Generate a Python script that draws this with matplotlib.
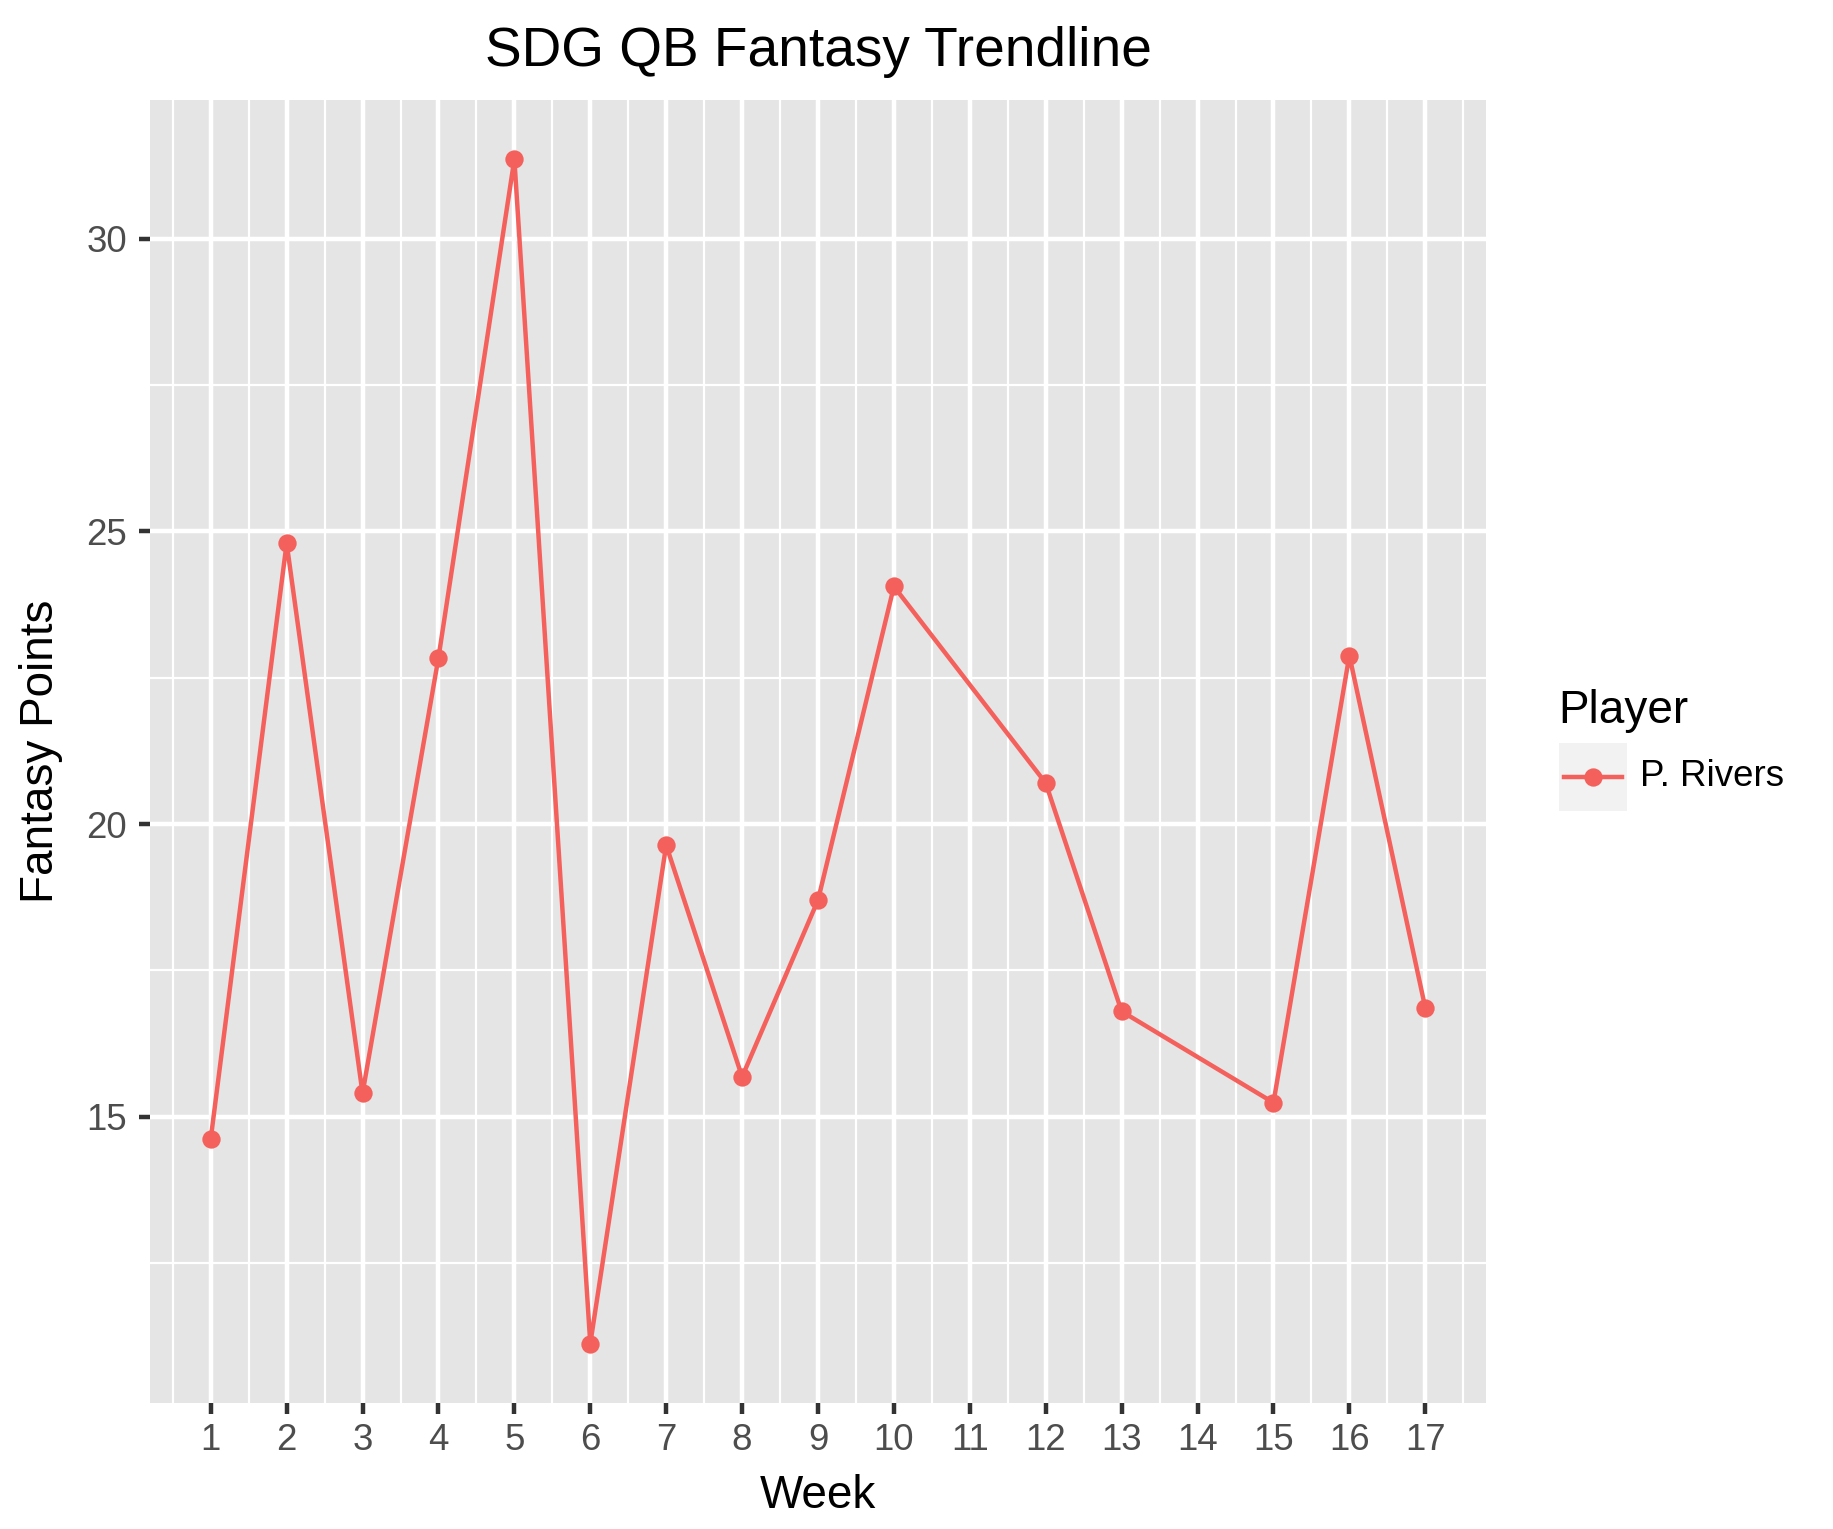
import numpy as np
import matplotlib
matplotlib.use('Agg')
import matplotlib.pyplot as plt
from matplotlib.ticker import FixedLocator

plt.rcParams['font.family'] = ['Liberation Sans', 'DejaVu Sans']

weeks = [1, 2, 3, 4, 5, 6, 7, 8, 9, 10, 12, 13, 15, 16, 17]
points = [14.62, 24.80, 15.40, 22.84, 31.36, 11.12, 19.64, 15.68, 18.70, 24.06,
          20.70, 16.80, 15.24, 22.88, 16.86]
week_ticks = list(range(1, 18))
y_ticks = [15, 20, 25, 30]
player = 'P. Rivers'

red = '#F4615C'
W, H = 1833, 1529

fig = plt.figure(figsize=(W / 300, H / 300), dpi=300)
ax = fig.add_axes([150 / W, 1 - 1403 / H, (1486 - 150) / W, (1403 - 100) / H])
ax.set_facecolor('#E5E5E5')
for s in ax.spines.values():
    s.set_visible(False)

# ggplot-style expansion of the limits
xr = max(week_ticks) - min(week_ticks)
ax.set_xlim(min(week_ticks) - 0.05 * xr, max(week_ticks) + 0.05 * xr)
yr = max(points) - min(points)
ax.set_ylim(min(points) - 0.05 * yr, max(points) + 0.05 * yr)

ax.xaxis.set_major_locator(FixedLocator(week_ticks))
ax.xaxis.set_minor_locator(FixedLocator([w + 0.5 for w in [0] + week_ticks]))
ax.yaxis.set_major_locator(FixedLocator(y_ticks))
ax.yaxis.set_minor_locator(FixedLocator([t - 2.5 for t in y_ticks] + [y_ticks[-1] + 2.5]))
ax.grid(which='major', color='white', lw=1.07)
ax.grid(which='minor', color='white', lw=0.53)
ax.set_axisbelow(True)

ax.tick_params(which='major', length=2.75, width=1.07, color='#333333',
               labelsize=8.8, labelcolor='#4D4D4D')
ax.tick_params(axis='x', which='major', pad=2)
ax.tick_params(axis='y', which='major', pad=2.8)
ax.tick_params(which='minor', length=0)

ax.plot(weeks, points, color=red, lw=1.07, marker='o', ms=4.4, mec=red, mew=0,
        zorder=3, clip_on=False)

ax.set_xlabel('Week', fontsize=11, color='black', labelpad=4)
ax.set_ylabel('Fantasy Points', fontsize=11, color='black', labelpad=5.5)

cx = (150 + 1486) / 2 / W
fig.text(cx, 1 - 66 / H, 'SDG QB Fantasy Trendline', fontsize=13.2,
         ha='center', va='baseline')

# legend
fig.text(1558 / W, 1 - 723 / H, 'Player', fontsize=11, ha='left', va='baseline')
kax = fig.add_axes([1559 / W, 1 - 811 / H, 68 / W, 68 / H])
kax.set_facecolor('#F2F2F2')
kax.set_xlim(0, 1)
kax.set_ylim(0, 1)
kax.set_xticks([])
kax.set_yticks([])
for s in kax.spines.values():
    s.set_visible(False)
kax.plot([0.08, 0.92], [0.5, 0.5], color=red, lw=1.07)
kax.plot([0.5], [0.5], 'o', color=red, ms=4.4, mew=0)
fig.text(1640 / W, 1 - 777 / H, player, fontsize=8.8, ha='left', va='center')

fig.savefig('out.png', dpi=300)
